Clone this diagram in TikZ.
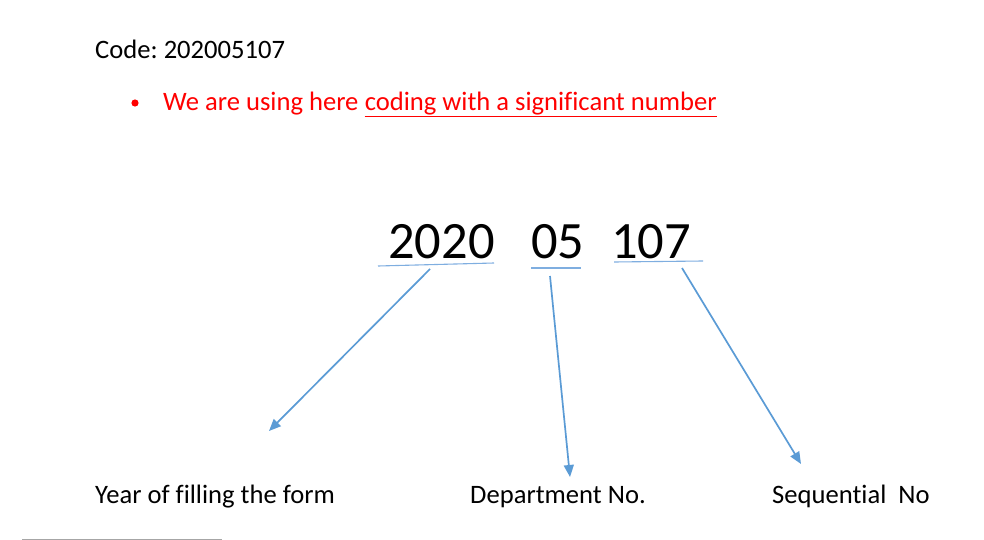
\documentclass[tikz,border=0pt]{standalone}
\usepackage{fontspec}
\setmainfont{Carlito}[Ligatures={NoCommon}]
\usetikzlibrary{arrows.meta}
\definecolor{arrblue}{HTML}{5B9BD5}
\definecolor{ulblue}{HTML}{7FAEE0}
\definecolor{myred}{HTML}{FF0000}
\frenchspacing
\begin{document}
\begin{tikzpicture}[x=1pt,y=-1pt,
  txt/.style={anchor=base west,inner sep=0pt,font=\fontsize{26.6}{30}\selectfont},
  big/.style={anchor=base west,inner sep=0pt,font=\fontsize{52.5}{58}\selectfont},
  conn/.style={draw=arrblue,line width=1.7pt,-{Triangle[length=12pt,width=10pt]}},
  uline/.style={draw=ulblue,line width=1.1pt}]
\useasboundingbox (0,0) rectangle (984,540);
% header
\node[txt] (code) at (95,59) {\frenchspacing Code: 202005107};
\fill[myred] (135,103) circle (3.6) coordinate (bul);
\node[txt,text=myred] (we) at (163,111) {We are using here};
\node[txt,text=myred,anchor=base west] (cod) at ([xshift=6pt]we.base east) {coding with a significant number};
\draw[myred,line width=1.4pt] ([yshift=-5.5pt]cod.base west) -- ([yshift=-5.5pt]cod.base east);
% big numbers
\node[big] (y2020) at (388,258) {2020};
\node[big] (d05) at (531,258) {05};
\node[big] (s107) at (611,258) {107};
\draw[uline] (378,266) coordinate (u1a) -- (494,263) coordinate (u1b);
\draw[uline] (531,268) coordinate (u2a) -- (581,268) coordinate (u2b);
\draw[uline] (614,262) coordinate (u3a) -- (703,261) coordinate (u3b);
% arrow ends
\coordinate (a1s) at (430,269);
\coordinate (a1e) at (269,431);
\coordinate (a2s) at (550,276);
\coordinate (a2e) at (570,477);
\coordinate (a3s) at (682,268);
\coordinate (a3e) at (801,464);
\draw[conn] (a1s) -- (a1e);
\draw[conn] (a2s) -- (a2e);
\draw[conn] (a3s) -- (a3e);
% labels
\node[txt] (year) at (95,503) {Year of filling the form};
\node[txt] (dept) at (470,503) {Department No.};
\node[txt] (seq) at (772,503) {Sequential\ \ No};
% bottom rule
\draw[gray!70,line width=1pt] (22,539) coordinate (r1) -- (222,539) coordinate (r2);
\end{tikzpicture}
\end{document}
